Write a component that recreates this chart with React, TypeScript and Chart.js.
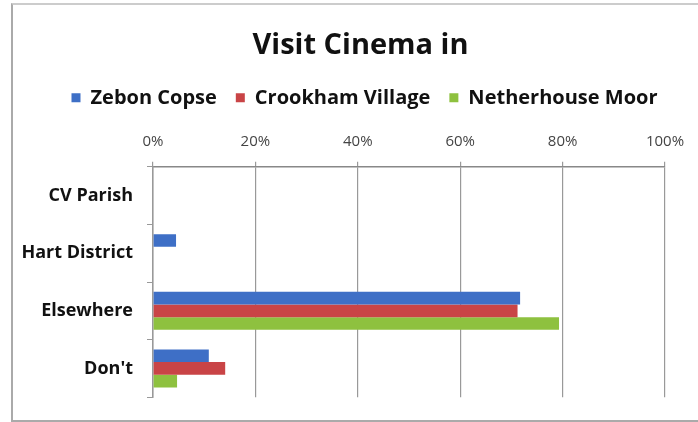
import React, { useEffect, useRef } from "react";
import { Chart, registerables } from "chart.js";

Chart.register(...registerables);

const categories = ["CV Parish", "Hart District", "Elsewhere", "Don't"];
const seriesNames = ["Zebon Copse", "Crookham Village", "Netherhouse Moor"];
const zebonCopse = [0, 4.5, 71.7, 10.9];
const crookhamVillage = [0, 0, 71.2, 14.1];
const netherhouseMoor = [0, 0, 79.3, 4.7];
const xTicks = [0, 20, 40, 60, 80, 100];
const colors = ["#3E6FC6", "#C94446", "#8EC13F"];

const FONT = "'Open Sans', 'DejaVu Sans', sans-serif";

const shiftHeader = {
  id: "shiftHeader",
  afterLayout(chart: any) {
    const t = chart.titleBlock;
    if (t) {
      t.left += 22;
      t.right += 22;
    }
    const l = chart.legend;
    if (l) {
      l.left += 26;
      l.right += 26;
    }
  },
};

export default function App() {
  const ref = useRef<HTMLCanvasElement | null>(null);
  useEffect(() => {
    document.body.style.margin = "0";
    const ctx = ref.current!;
    const values = [zebonCopse, crookhamVillage, netherhouseMoor];
    const chart = new Chart(ctx, {
      type: "bar",
      data: {
        labels: categories,
        datasets: seriesNames.map((name, i) => ({
          label: name,
          data: values[i],
          backgroundColor: colors[i],
          borderWidth: 0,
          categoryPercentage: 0.66,
          barPercentage: 1,
        })),
      },
      plugins: [shiftHeader],
      options: {
        indexAxis: "y",
        animation: false,
        responsive: false,
        maintainAspectRatio: false,
        layout: { padding: { left: 12, right: 33, top: 0, bottom: 22 } },
        plugins: {
          title: {
            display: true,
            text: "Visit Cinema in",
            color: "#111",
            font: { family: FONT, size: 29, weight: "bold" },
            padding: { top: 28, bottom: 6 },
          },
          legend: {
            position: "top",
            labels: {
              color: "#111",
              boxWidth: 9,
              boxHeight: 9,
              padding: 19,
              font: { family: FONT, size: 20, weight: "bold" },
            },
          },
          tooltip: { enabled: false },
        },
        scales: {
          x: {
            position: "top",
            min: 0,
            max: 100,
            afterBuildTicks: (scale: any) => {
              scale.ticks = xTicks.map((v) => ({ value: v }));
            },
            afterFit: (scale: any) => {
              scale.height = 49;
            },
            ticks: {
              color: "#444",
              font: { family: FONT, size: 15 },
              callback: (v: any) => v + "%",
              padding: 11,
            },
            grid: { color: "#999", lineWidth: 1.2, drawTicks: true, tickLength: 5 },
            border: { display: true, color: "#888", width: 1.5 },
          },
          y: {
            afterFit: (scale: any) => {
              scale.width = 141;
            },
            ticks: {
              color: "#111",
              font: { family: FONT, size: 18, weight: "bold" },
              padding: 14,
            },
            grid: {
              offset: true,
              drawOnChartArea: false,
              drawTicks: true,
              tickLength: 6,
              color: "#999",
            },
            border: { display: true, color: "#999", width: 1.5 },
          },
        },
      },
    });
    return () => chart.destroy();
  }, []);
  return (
    <div style={{ position: "relative", width: 698, height: 422, background: "#fff", overflow: "hidden" }}>
      <div
        style={{
          position: "absolute",
          left: 11,
          top: 3,
          width: 700,
          height: 415,
          borderLeft: "2px solid #aaa",
          borderTop: "2px solid #ccc",
          borderBottom: "2px solid #aaa",
        }}
      />
      <canvas ref={ref} width={698} height={422} style={{ position: "absolute", left: 0, top: 0 }} />
    </div>
  );
}
